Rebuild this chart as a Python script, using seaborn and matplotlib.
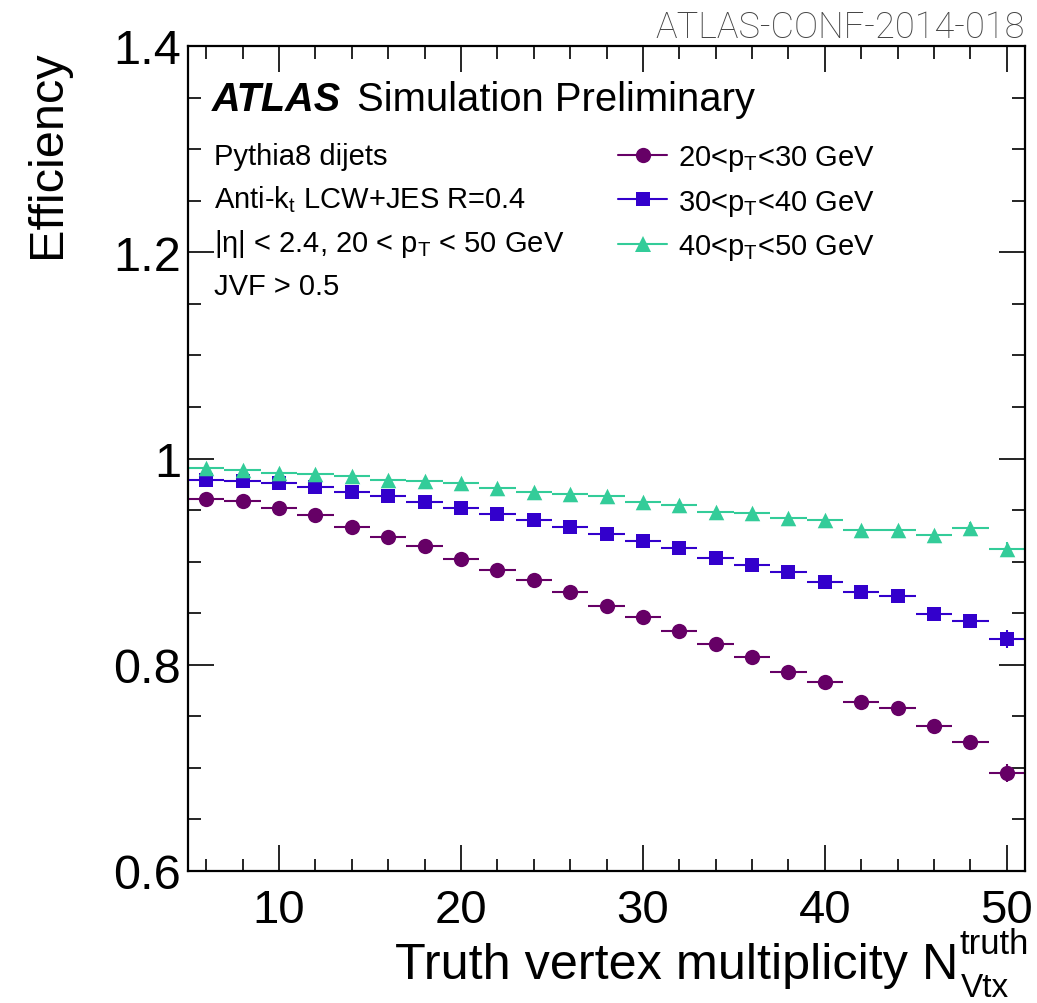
import matplotlib
matplotlib.use("Agg")
import matplotlib.pyplot as plt
from matplotlib.lines import Line2D
from matplotlib.ticker import MultipleLocator, FuncFormatter
import pandas as pd
import seaborn as sns

# Truth vertex multiplicity bin centres (bins are 2 wide)
nvtx = [6, 8, 10, 12, 14, 16, 18, 20, 22, 24, 26, 28,
        30, 32, 34, 36, 38, 40, 42, 44, 46, 48, 50]

# Jet efficiency per pT bin
eff_20_30 = [0.961, 0.959, 0.952, 0.945, 0.934, 0.924, 0.915, 0.903,
             0.892, 0.882, 0.871, 0.857, 0.846, 0.833, 0.820, 0.808,
             0.793, 0.783, 0.764, 0.758, 0.741, 0.725, 0.695]
eff_30_40 = [0.979, 0.978, 0.976, 0.972, 0.968, 0.964, 0.958, 0.952,
             0.946, 0.940, 0.934, 0.927, 0.920, 0.913, 0.904, 0.897,
             0.890, 0.880, 0.871, 0.867, 0.849, 0.842, 0.825]
eff_40_50 = [0.991, 0.989, 0.986, 0.985, 0.983, 0.979, 0.978, 0.976,
             0.971, 0.968, 0.966, 0.964, 0.958, 0.955, 0.948, 0.947,
             0.942, 0.940, 0.931, 0.931, 0.926, 0.933, 0.912]

# Statistical uncertainties on the efficiency
err_20_30 = [0.001, 0.001, 0.001, 0.001, 0.001, 0.001, 0.001, 0.002,
             0.002, 0.002, 0.002, 0.002, 0.003, 0.003, 0.003, 0.003,
             0.004, 0.004, 0.004, 0.005, 0.005, 0.006, 0.009]
err_30_40 = [0.001, 0.001, 0.001, 0.001, 0.001, 0.001, 0.001, 0.001,
             0.002, 0.002, 0.002, 0.002, 0.002, 0.003, 0.003, 0.003,
             0.003, 0.004, 0.004, 0.005, 0.005, 0.006, 0.009]
err_40_50 = [0.001, 0.001, 0.001, 0.001, 0.001, 0.001, 0.001, 0.001,
             0.001, 0.002, 0.002, 0.002, 0.002, 0.002, 0.002, 0.003,
             0.003, 0.003, 0.004, 0.004, 0.004, 0.005, 0.007]

bin_half_width = 1.0

labels = ["20<p$_{T}$<30 GeV", "30<p$_{T}$<40 GeV", "40<p$_{T}$<50 GeV"]
colors = ["#660066", "#3300cc", "#33cc99"]
markers = ["o", "s", "^"]
msizes = [11.0, 10.4, 11.2]

sns.set_theme(style="ticks")
plt.rcParams["font.family"] = ["Liberation Sans", "DejaVu Sans"]
plt.rcParams["mathtext.fontset"] = "custom"
plt.rcParams["mathtext.rm"] = "Liberation Sans"
plt.rcParams["mathtext.it"] = "Liberation Sans"
plt.rcParams["mathtext.default"] = "regular"
for key in ["text.color", "axes.labelcolor", "xtick.color", "ytick.color",
            "axes.edgecolor"]:
    plt.rcParams[key] = "black"

W, H = 1037, 1004
fig = plt.figure(figsize=(W / 100, H / 100), dpi=100)


def fx(px):
    return px / W


def fy(py):
    return 1 - py / H


ax = fig.add_axes([fx(188), fy(872), fx(1025) - fx(188), fy(47) - fy(872)])

df = pd.DataFrame({
    "nvtx": nvtx * 3,
    "eff": eff_20_30 + eff_30_40 + eff_40_50,
    "err": err_20_30 + err_30_40 + err_40_50,
    "bin": [labels[0]] * len(nvtx) + [labels[1]] * len(nvtx) + [labels[2]] * len(nvtx),
})

for lab, c, m, ms in zip(labels, colors, markers, msizes):
    sub = df[df["bin"] == lab]
    ax.errorbar(sub["nvtx"], sub["eff"], xerr=bin_half_width, yerr=sub["err"],
                fmt="none", ecolor=c, elinewidth=1.5, capsize=0, zorder=2)
    sns.scatterplot(data=sub, x="nvtx", y="eff", ax=ax, color=c, marker=m,
                    s=ms ** 2, linewidth=0, zorder=3, legend=False)

ax.set_xlim(5, 51)
ax.set_ylim(0.6, 1.4)
ax.set_xlabel("")
ax.set_ylabel("")

ax.xaxis.set_major_locator(MultipleLocator(10))
ax.xaxis.set_minor_locator(MultipleLocator(2))
ax.yaxis.set_major_locator(MultipleLocator(0.2))
ax.yaxis.set_minor_locator(MultipleLocator(0.05))
ax.yaxis.set_major_formatter(FuncFormatter(lambda v, p: f"{v:g}"))

ax.tick_params(which="both", direction="in", top=True, right=True,
               color="black", width=1.2)
ax.tick_params(axis="x", which="major", length=19, pad=12, labelsize=34)
ax.tick_params(axis="x", which="minor", length=9)
ax.tick_params(axis="y", which="major", length=19, pad=5, labelsize=35)
ax.tick_params(axis="y", which="minor", length=9.5)
for s in ax.spines.values():
    s.set_linewidth(1.6)
    s.set_color("black")

# Axis titles
fig.text(fx(48), fy(50), "Efficiency", rotation=90, ha="center", va="top",
         fontsize=35)
fig.text(fx(958), fy(979), "Truth vertex multiplicity N", ha="right",
         va="baseline", fontsize=36.3)
fig.text(fx(959), fy(954), "truth", ha="left", va="baseline", fontsize=25)
fig.text(fx(961), fy(997), "Vtx", ha="left", va="baseline", fontsize=24)

# Document reference
fig.text(fx(1025), fy(38), "ATLAS-CONF-2014-018", ha="right", va="baseline",
         fontsize=26, color="#444444", family=["Roboto", "Liberation Sans"],
         fontweight="light")

# Experiment label
fig.text(fx(212), fy(111), "ATLAS", ha="left", va="baseline", fontsize=28.5,
         fontweight="bold", fontstyle="italic")
fig.text(fx(357), fy(111), "Simulation Preliminary", ha="left",
         va="baseline", fontsize=28.8)

info = ["Pythia8 dijets", "Anti-k$_{t}$ LCW+JES R=0.4",
        "|η| < 2.4, 20 < p$_{T}$ < 50 GeV", "JVF > 0.5"]
info_y = [165, 208, 252, 295]
for txt, yy in zip(info, info_y):
    fig.text(fx(214), fy(yy), txt, ha="left", va="baseline", fontsize=21)

handles = [Line2D([0], [0], color=c, marker=m, markersize=ms, lw=1.5,
                  markeredgewidth=0)
           for c, m, ms in zip(colors, markers, msizes)]
fig.legend(handles, labels, loc="upper left",
           bbox_to_anchor=(fx(618), fy(144)), frameon=False, fontsize=21,
           handlelength=1.68, handletextpad=0.38, labelspacing=0.5,
           borderpad=0, borderaxespad=0)

fig.savefig("out.png", dpi=100)
